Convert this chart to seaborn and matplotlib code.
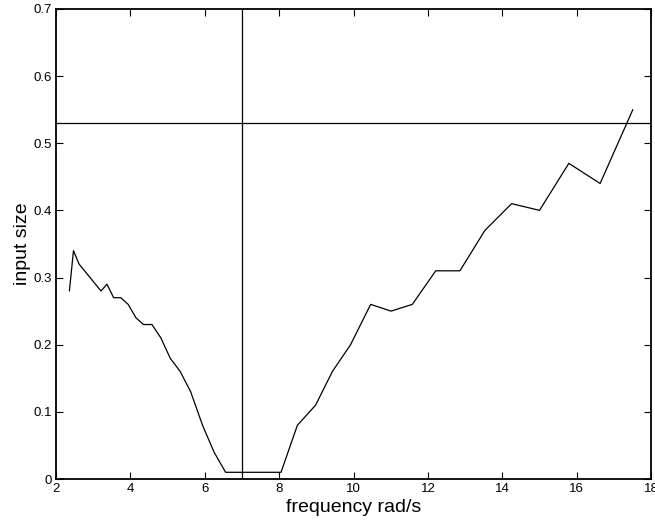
"""
plot.py - input size versus frequency, with reference cross lines.
"""

import numpy as np
import pandas as pd
import matplotlib
matplotlib.use("Agg")
import matplotlib.pyplot as plt
import seaborn as sns

# valori
frequency = [2.36, 2.47, 2.62, 3.21, 3.37, 3.55, 3.74, 3.94, 4.15, 4.35,
             4.58, 4.82, 5.07, 5.34, 5.62, 5.94, 6.25, 6.56, 8.05, 8.49,
             8.98, 9.43, 9.92, 10.46, 11.01, 11.58, 12.21, 12.86, 13.53,
             14.25, 15.00, 15.79, 16.63, 17.51]
input_size = [0.28, 0.34, 0.32, 0.28, 0.29, 0.27, 0.27, 0.26, 0.24, 0.23,
              0.23, 0.21, 0.18, 0.16, 0.13, 0.08, 0.04, 0.01, 0.01, 0.08,
              0.11, 0.16, 0.20, 0.26, 0.25, 0.26, 0.31, 0.31, 0.37,
              0.41, 0.40, 0.47, 0.44, 0.55]
vline_x = 7
hline_y = 0.53

df = pd.DataFrame({"frequency": frequency, "input size": input_size})

sns.set_style("ticks")
plt.rcParams['font.family'] = ['Liberation Sans', 'DejaVu Sans']

fig = plt.figure(figsize=(6.55, 5.25), dpi=100)
ax = fig.add_axes([0.0855, 0.0876, 0.9085, 0.8955])

sns.lineplot(data=df, x="frequency", y="input size", color="black",
             linewidth=0.9, ax=ax, sort=False)
ax.axvline(vline_x, color="black", linewidth=0.9)
ax.axhline(hline_y, color="black", linewidth=0.9)

ax.set_xlim(2, 18)
ax.set_ylim(0, 0.7)
ax.set_xticks(np.arange(2, 19, 2))
ax.set_yticks(np.arange(0, 0.71, 0.1))
ax.set_yticklabels(["0", "0.1", "0.2", "0.3", "0.4", "0.5", "0.6", "0.7"])
ax.tick_params(direction="in", top=True, right=True, labelsize=9.5,
               length=5, width=0.8, colors="black", pad=3)
for s in ax.spines.values():
    s.set_linewidth(1.3)
    s.set_color("black")
    s.set_visible(True)

ax.set_xlabel("frequency rad/s", fontsize=14, labelpad=3, color="black")
ax.set_ylabel("input size", fontsize=14, labelpad=2, color="black")

fig.savefig("out.png", dpi=100)
